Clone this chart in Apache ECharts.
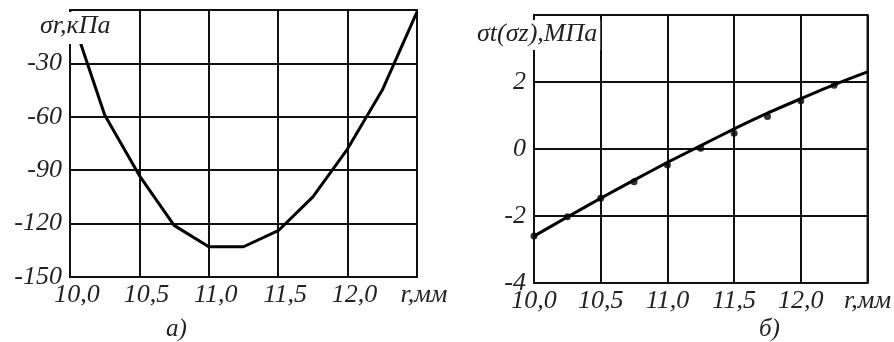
<!DOCTYPE html>
<html>
<head>
<meta charset="utf-8">
<script src="https://cdn.jsdelivr.net/npm/echarts@6/dist/echarts.min.js"></script>
<style>
  html, body { margin: 0; padding: 0; background: #fff; }
  #chart { width: 894px; height: 342px; }
</style>
</head>
<body>
<div id="chart"></div>
<script>
// радиус, мм
const rValues = [10.0, 10.25, 10.5, 10.75, 11.0, 11.25, 11.5, 11.75, 12.0, 12.25, 12.5];
// а) радиальные напряжения, кПа
const sigmaR = [-1, -59, -93, -121, -133, -133, -124, -105, -78, -45, -1];
// б) окружные (осевые) напряжения, МПа - расчётная кривая
const sigmaT = [-2.6, -2.03, -1.47, -0.93, -0.4, 0.1, 0.6, 1.07, 1.5, 1.92, 2.3];
// б) точки
const pointsR = [10.0, 10.25, 10.5, 10.75, 11.0, 11.25, 11.5, 11.75, 12.0, 12.25];
const pointsT = [-2.6, -2.02, -1.47, -0.98, -0.48, 0.02, 0.47, 0.97, 1.44, 1.9];

const xTickLabels = ['10,0', '10,5', '11,0', '11,5', '12,0', 'r,мм'];
const yTickLabelsA = ['-150', '-120', '-90', '-60', '-30', ''];
const yTickLabelsB = ['-4', '-2', '0', '2', ''];

const FONT = '"Liberation Serif", "DejaVu Serif", serif';
const INK = '#111';

const chart = echarts.init(document.getElementById('chart'), null, { renderer: 'canvas' });

function xAxis(gridIndex, shift) {
  return {
    type: 'value', gridIndex: gridIndex, min: 10, max: 12.5, interval: 0.5,
    axisLine: { show: true, lineStyle: { color: INK, width: 2 } },
    axisTick: { show: false },
    axisLabel: {
      margin: 5, color: '#222', fontFamily: FONT, fontStyle: 'italic', fontSize: 26,
      padding: [0, 0, 0, shift],
      showMinLabel: true, showMaxLabel: true,
      formatter: (v, i) => xTickLabels[i]
    },
    splitLine: { show: true, lineStyle: { color: INK, width: 2 } }
  };
}

function yAxis(gridIndex, min, max, interval, labels) {
  return {
    type: 'value', gridIndex: gridIndex, min: min, max: max, interval: interval,
    axisLine: { show: true, onZero: false, lineStyle: { color: INK, width: 2 } },
    axisTick: { show: false },
    axisLabel: {
      margin: 8, color: '#222', fontFamily: FONT, fontStyle: 'italic', fontSize: 26,
      showMinLabel: true, showMaxLabel: true,
      formatter: (v, i) => labels[i]
    },
    splitLine: { show: true, lineStyle: { color: INK, width: 2 } }
  };
}

const option = {
  backgroundColor: '#fff',
  animation: false,
  grid: [
    { left: 70, top: 10, width: 347, height: 267, show: true, borderColor: INK, borderWidth: 2 },
    { left: 534, top: 15, width: 341, height: 268, show: true, borderColor: INK, borderWidth: 2 }
  ],
  xAxis: [xAxis(0, 14), xAxis(1, 0)],
  yAxis: [
    yAxis(0, -150, 0, 30, yTickLabelsA),
    yAxis(1, -4, 4, 2, yTickLabelsB)
  ],
  series: [
    {
      type: 'line', xAxisIndex: 0, yAxisIndex: 0, showSymbol: false,
      lineStyle: { color: '#000', width: 3 },
      data: rValues.map((r, i) => [r, sigmaR[i]])
    },
    {
      type: 'line', xAxisIndex: 1, yAxisIndex: 1, showSymbol: false, smooth: 0.2,
      lineStyle: { color: '#000', width: 3 },
      data: rValues.map((r, i) => [r, sigmaT[i]])
    },
    {
      type: 'scatter', xAxisIndex: 1, yAxisIndex: 1, symbolSize: 7,
      itemStyle: { color: '#000' },
      data: pointsR.map((r, i) => [r, pointsT[i]])
    }
  ],
  graphic: [
    {
      type: 'text', left: 37, top: 12, z: 100,
      style: { text: 'σr,кПа', font: 'italic 26px ' + FONT, fill: '#222', backgroundColor: '#fff', padding: [1, 3, 5, 3] }
    },
    {
      type: 'text', left: 474, top: 20, z: 100,
      style: { text: 'σt(σz),МПа', font: 'italic 26px ' + FONT, fill: '#222', backgroundColor: '#fff', padding: [1, 3, 3, 3] }
    },
    {
      type: 'text', left: 166, top: 317,
      style: { text: 'а)', font: 'italic 25px ' + FONT, fill: '#222' }
    },
    {
      type: 'text', left: 759, top: 317,
      style: { text: 'б)', font: 'italic 25px ' + FONT, fill: '#222' }
    }
  ]
};

chart.setOption(option);
</script>
</body>
</html>
